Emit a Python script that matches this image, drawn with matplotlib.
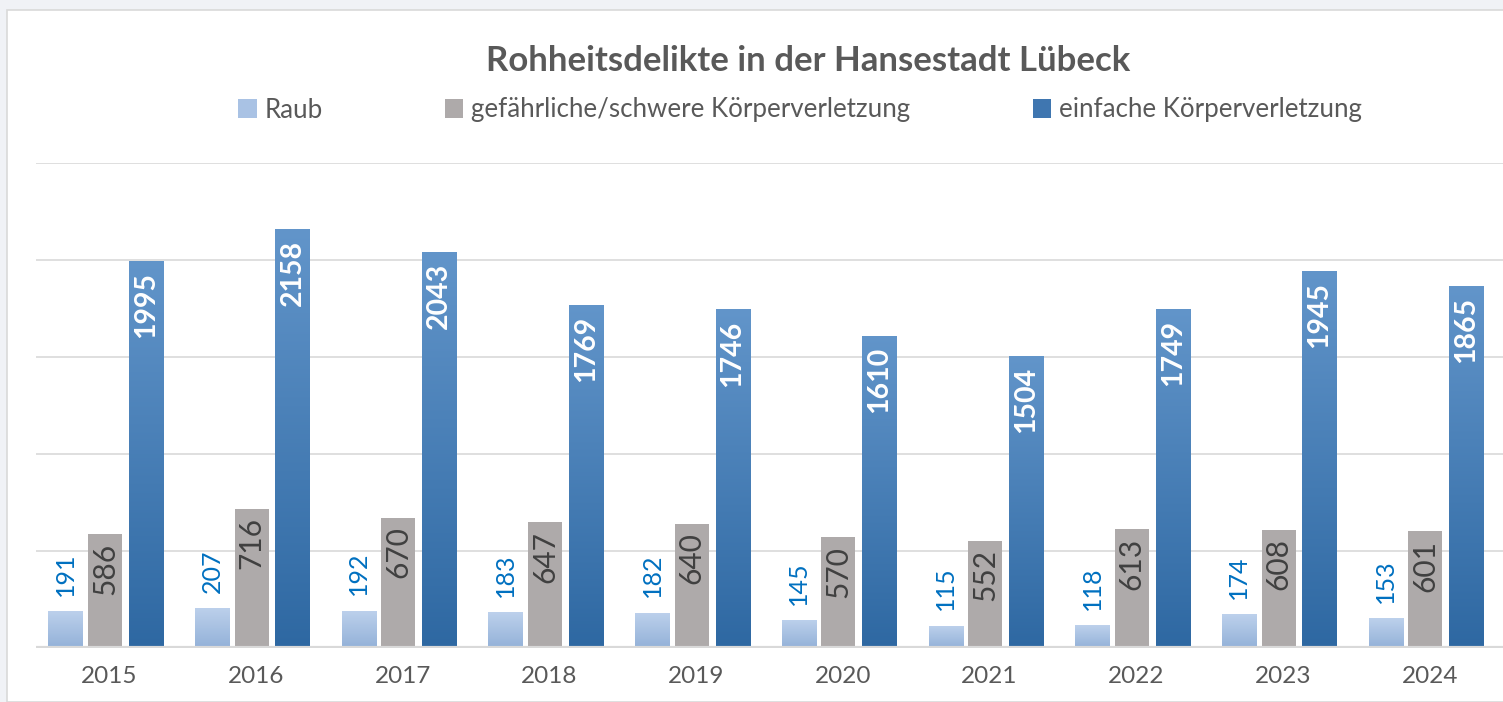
import numpy as np
import matplotlib.pyplot as plt
from matplotlib.patches import Patch, Rectangle
from matplotlib.colors import LinearSegmentedColormap

plt.rcParams['font.family'] = ['Lato', 'DejaVu Sans']

years = ['2015', '2016', '2017', '2018', '2019', '2020', '2021', '2022', '2023', '2024']
raub = [191, 207, 192, 183, 182, 145, 115, 118, 174, 153]
schwer = [586, 716, 670, 647, 640, 570, 552, 613, 608, 601]
einfach = [1995, 2158, 2043, 1769, 1746, 1610, 1504, 1749, 1945, 1865]
names = ['Raub', 'gefährliche/schwere Körperverletzung', 'einfache Körperverletzung']

txt = '#595959'

fig = plt.figure(figsize=(15.03, 7.02), dpi=100, facecolor='#f0f2f6')
# white chart area
fig.patches.append(Rectangle((7/1503, 0), 1, 692/702, transform=fig.transFigure,
                             facecolor='white', edgecolor='#d9d9d9', lw=1.2, zorder=-5))

ax = fig.add_axes([36/1503, 54/702, 1467/1503, 485/702])
ax.set_facecolor('none')

x = np.arange(len(years))
w = 0.232
offs = [-0.30, -0.03, 0.248]

def grad_bars(vals, off, top, bottom):
    cmap = LinearSegmentedColormap.from_list('g', [bottom, top])
    bars = ax.bar(x + off, vals, w, color='none', zorder=3)
    for b in bars:
        g = np.linspace(0, 1, 256).reshape(-1, 1)
        im = ax.imshow(g, cmap=cmap, origin='lower', aspect='auto', zorder=2,
                       extent=[b.get_x(), b.get_x() + b.get_width(), 0, b.get_height()])
        im.set_clip_path(b)
    return bars

grad_bars(raub, offs[0], '#bdd1ec', '#93b1d8')
ax.bar(x + offs[1], schwer, w, color='#aeaaaa', zorder=3)
grad_bars(einfach, offs[2], '#6295ca', '#2e68a2')

for i in range(len(years)):
    ax.annotate(str(raub[i]), (x[i] + offs[0], raub[i]), xytext=(0, 11), textcoords='offset points',
                rotation=90, ha='center', va='bottom', fontsize=18, color='#0070c0', zorder=5)
    ax.annotate(str(schwer[i]), (x[i] + offs[1], schwer[i]), xytext=(0, -6), textcoords='offset points',
                rotation=90, ha='center', va='top', fontsize=21.5, color='#404040', zorder=5)
    ax.annotate(str(einfach[i]), (x[i] + offs[2], einfach[i]), xytext=(0, -8), textcoords='offset points',
                rotation=90, ha='center', va='top', fontsize=20.5, color='white',
                fontweight='bold', zorder=5)

ax.set_xlim(-0.5, 9.5)
ax.set_ylim(0, 2500)
ax.set_yticks([0, 500, 1000, 1500, 2000, 2500])
ax.set_yticklabels([])
ax.grid(axis='y', color='#d9d9d9', lw=1.2, zorder=0)
ax.axhline(0, color='#d9d9d9', lw=3, zorder=4)
ax.set_xticks(x)
ax.set_xticklabels(years, fontsize=17.5, color=txt)
ax.tick_params(length=0, pad=13)
ax.tick_params(axis='y', length=0)
for s in ax.spines.values():
    s.set_visible(False)

fig.text(808/1503, 1 - 61/702, 'Rohheitsdelikte in der Hansestadt Lübeck', ha='center', va='center',
         fontsize=25, fontweight='bold', color=txt)

cols = ['#a9c2e4', '#aeaaaa', '#3f76b0']
handles = [Patch(facecolor=c) for c in cols]
fig.legend(handles, names, loc='center', bbox_to_anchor=(800/1503, 1 - 110/702), ncol=3,
           frameon=False, fontsize=18.6, labelcolor=txt, handlelength=0.7, handleheight=0.7,
           handletextpad=0.3, columnspacing=4.75)

fig.savefig('out.png', dpi=100, facecolor=fig.get_facecolor())
